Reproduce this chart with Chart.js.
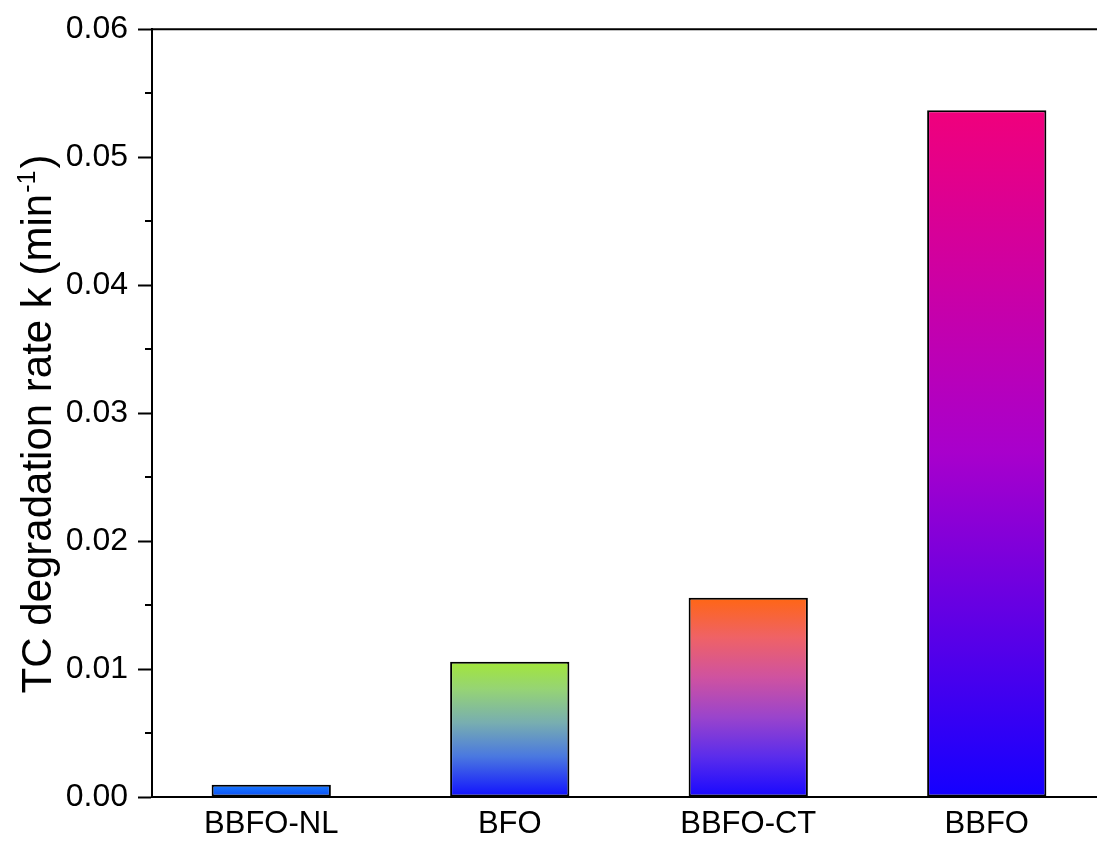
<!DOCTYPE html>
<html>
<head>
<meta charset="utf-8">
<script src="https://cdn.jsdelivr.net/npm/chart.js@4/dist/chart.umd.min.js"></script>
<style>
  html, body { margin: 0; padding: 0; background: #fff; overflow: hidden; }
  #wrap { width: 1106px; height: 845px; }
</style>
</head>
<body>
<div id="wrap"><canvas id="c" width="1106" height="845"></canvas></div>
<script>
// Samples and their first-order TC degradation rate constants (min^-1)
const categories = ['BBFO-NL', 'BFO', 'BBFO-CT', 'BBFO'];
const rateK = [0.00096, 0.01056, 0.01558, 0.05366];
const yTicks = [0, 0.01, 0.02, 0.03, 0.04, 0.05, 0.06];

// Vertical colour ramps for each bar, bottom (0) to top (1)
const barRamps = [
  [[0, '#0a4cf5'], [1, '#1a7cff']],
  [[0, '#1010ff'], [0.3, '#4a78e0'], [0.55, '#78aeb0'], [0.8, '#96d474'], [1, '#a2e63a']],
  [[0, '#1808ff'], [0.2, '#5a2cec'], [0.4, '#9a44cc'], [0.6, '#cf52a0'], [0.8, '#ef6266'], [1, '#ff6614']],
  [[0, '#1400ff'], [0.5, '#a800cc'], [1, '#f0007c']]
];

const FONT = '"Liberation Sans", Arial, sans-serif';

function barFill(context) {
  const chart = context.chart;
  if (!chart.chartArea || !chart.scales.y) return '#1010ff';
  const i = context.dataIndex;
  const y = chart.scales.y;
  const y0 = y.getPixelForValue(0);
  const y1 = y.getPixelForValue(rateK[i]);
  const g = chart.ctx.createLinearGradient(0, y0, 0, y1);
  barRamps[i].forEach(([o, c]) => g.addColorStop(o, c));
  return g;
}

// Minor ticks, top frame line and the rotated axis title with superscript
const decorations = {
  id: 'decorations',
  afterDraw(chart) {
    const { ctx, chartArea, scales } = chart;
    const y = scales.y;
    ctx.save();
    ctx.strokeStyle = '#000';
    ctx.lineWidth = 2;
    // minor ticks halfway between labelled values
    for (let k = 0; k < yTicks.length - 1; k++) {
      const v = (yTicks[k] + yTicks[k + 1]) / 2;
      const py = Math.round(y.getPixelForValue(v));
      ctx.beginPath();
      ctx.moveTo(chartArea.left - 7, py);
      ctx.lineTo(chartArea.left, py);
      ctx.stroke();
    }
    // top frame
    ctx.beginPath();
    ctx.moveTo(chartArea.left - 1, chartArea.top);
    ctx.lineTo(chart.width, chartArea.top);
    ctx.stroke();

    // y-axis title
    const main = 'TC degradation rate k (min';
    const sup = '-1';
    const tail = ')';
    const mainFont = '42px ' + FONT;
    const supFont = '25px ' + FONT;
    ctx.font = mainFont;
    const wMain = ctx.measureText(main).width;
    const wTail = ctx.measureText(tail).width;
    ctx.font = supFont;
    const wSup = ctx.measureText(sup).width;
    const total = wMain + wSup + wTail + 3;
    const cx = 51;
    const cy = 424;
    ctx.translate(cx, cy);
    ctx.rotate(-Math.PI / 2);
    ctx.fillStyle = '#000';
    ctx.textBaseline = 'alphabetic';
    ctx.textAlign = 'left';
    let x = -total / 2;
    ctx.font = mainFont;
    ctx.fillText(main, x, 0);
    x += wMain + 1;
    ctx.font = supFont;
    ctx.fillText(sup, x, -16);
    x += wSup + 2;
    ctx.font = mainFont;
    ctx.fillText(tail, x, 0);
    ctx.restore();
  }
};

new Chart(document.getElementById('c'), {
  type: 'bar',
  data: {
    labels: categories,
    datasets: [{
      data: rateK,
      backgroundColor: barFill,
      borderColor: '#000',
      borderWidth: 2,
      borderSkipped: false,
      barPercentage: 0.5,
      categoryPercentage: 1.0
    }]
  },
  options: {
    responsive: false,
    animation: false,
    devicePixelRatio: 1,
    layout: { padding: { top: 28, right: 0, bottom: 0, left: 0 } },
    plugins: {
      legend: { display: false },
      tooltip: { enabled: false },
      title: { display: false }
    },
    scales: {
      x: {
        grid: { display: false, drawTicks: false },
        border: { display: true, color: '#000', width: 2 },
        ticks: {
          color: '#000',
          font: { family: FONT, size: 31 },
          padding: 9,
          maxRotation: 0
        },
        afterFit(scale) { scale.height = 48; }
      },
      y: {
        min: 0,
        max: 0.06,
        grid: {
          drawOnChartArea: false,
          drawTicks: true,
          tickLength: 14,
          tickWidth: 2,
          tickColor: '#000'
        },
        border: { display: true, color: '#000', width: 2 },
        afterBuildTicks(scale) {
          scale.ticks = yTicks.map(v => ({ value: v }));
        },
        ticks: {
          color: '#000',
          font: { family: FONT, size: 32 },
          padding: 10,
          callback: v => Number(v).toFixed(2)
        },
        afterFit(scale) { scale.width = 152; }
      }
    }
  },
  plugins: [decorations]
});
</script>
</body>
</html>
